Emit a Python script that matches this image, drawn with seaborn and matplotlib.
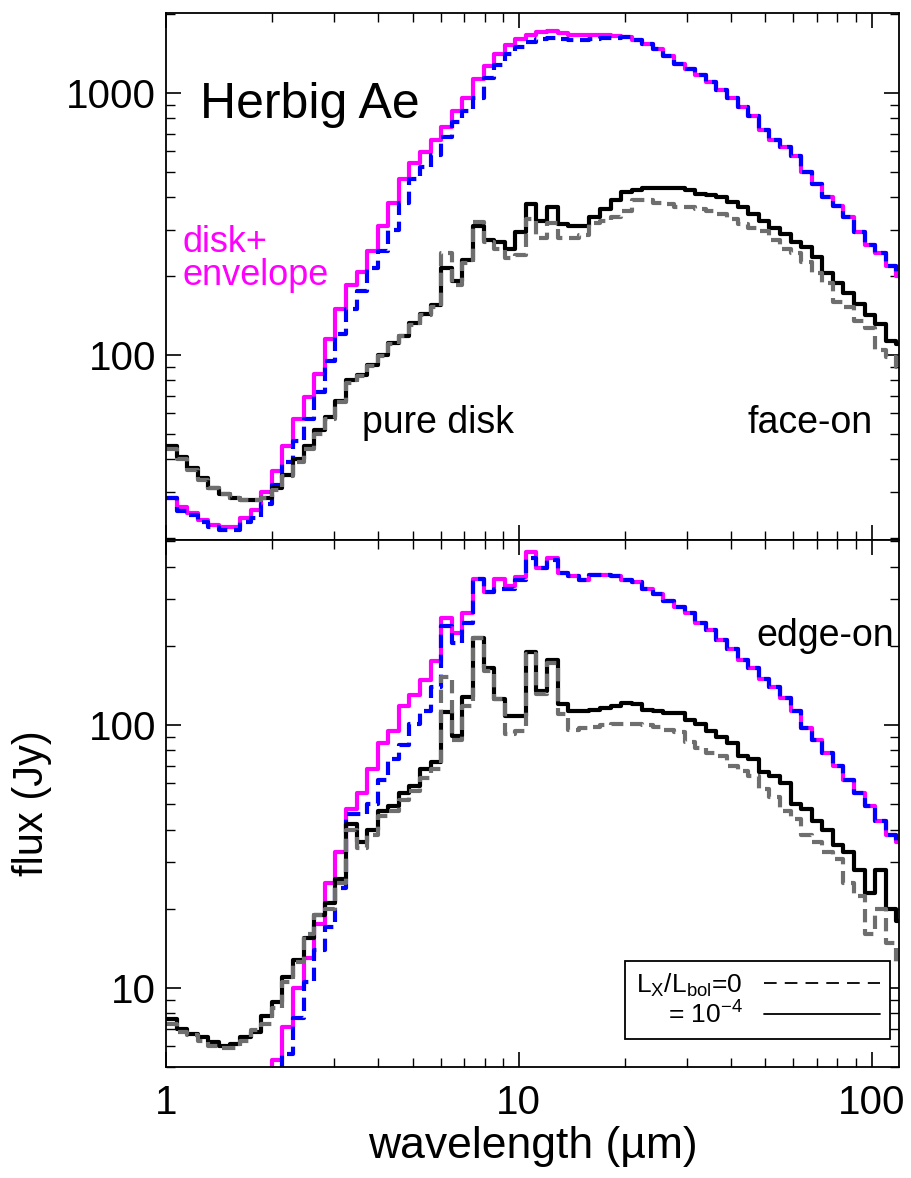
import matplotlib
matplotlib.use("Agg")
import numpy as np
import pandas as pd
import matplotlib.pyplot as plt
from matplotlib.lines import Line2D
from matplotlib.ticker import NullFormatter, LogLocator, FixedLocator, FixedFormatter
import seaborn as sns

# Wavelength bin edges (micron); each flux value spans one bin
WAVE_EDGES = [1.000, 1.072, 1.148, 1.230, 1.318, 1.413, 1.514, 1.622, 1.738, 1.862,
              1.995, 2.138, 2.291, 2.455, 2.630, 2.818, 3.020, 3.236, 3.467, 3.715,
              3.981, 4.266, 4.571, 4.898, 5.248, 5.623, 6.026, 6.457, 6.918, 7.413,
              7.943, 8.511, 9.120, 9.772, 10.47, 11.22, 12.02, 12.88, 13.80, 14.79,
              15.85, 16.98, 18.20, 19.50, 20.89, 22.39, 23.99, 25.70, 27.54, 29.51,
              31.62, 33.88, 36.31, 38.90, 41.69, 44.67, 47.86, 51.29, 54.95, 58.88,
              63.10, 67.61, 72.44, 77.62, 83.18, 89.13, 95.50, 102.3, 109.6, 117.5,
              125.9]

# ---- face-on (Jy) ----
FACE_ENV_LX4 = [28.5, 26.3, 25, 23.5, 22.5, 22, 22, 24, 25.6, 30,
                36, 45, 57, 69, 85, 115, 150, 185, 207, 250,
                310, 381, 470, 540, 596, 660, 740, 851, 960, 1130,
                1270, 1410, 1530, 1600, 1670, 1715, 1730, 1700, 1670, 1660,
                1660, 1660, 1650, 1630, 1590, 1540, 1470, 1380, 1285, 1230,
                1174, 1100, 1030, 960, 881, 820, 720, 660, 620, 575,
                500, 450, 400, 370, 335, 295, 263, 245, 219, 200]
FACE_ENV_LX0 = [28.5, 25.5, 24.5, 23, 22, 21.5, 21.5, 23, 24, 27,
                32, 39, 47, 57, 72, 95, 120, 150, 175, 215,
                250, 300, 381, 470, 520, 580, 680, 777, 851, 958,
                1145, 1280, 1408, 1500, 1560, 1600, 1620, 1610, 1590, 1595,
                1605, 1615, 1620, 1630, 1590, 1540, 1470, 1380, 1285, 1230,
                1174, 1100, 1030, 960, 881, 820, 720, 660, 620, 575,
                500, 450, 400, 370, 335, 295, 263, 245, 219, 200]
FACE_DISK_LX4 = [45, 41, 37, 34, 31, 29.5, 28.5, 28, 28, 28.5,
                 31, 35, 40, 45, 52, 58, 67, 80, 84, 92,
                 100, 111, 118, 133, 143, 155, 215, 192, 230, 310,
                 275, 270, 255, 295, 377, 325, 366, 315, 311, 311,
                 335, 361, 389, 420, 425, 433, 435, 435, 435, 427,
                 410, 408, 402, 384, 366, 345, 325, 306, 290, 270,
                 259, 237, 206, 189, 172, 157, 142, 131, 113, 110]
FACE_DISK_LX0 = [44, 40, 36.5, 33.5, 31, 29.5, 28.5, 28, 28, 28.5,
                 30.5, 34.5, 39, 44, 50, 57, 66, 78, 83, 91,
                 99, 110, 118, 130, 142, 153, 245, 185, 225, 322,
                 270, 255, 235, 240, 330, 279, 320, 279, 279, 288,
                 320, 325, 335, 356, 389, 389, 380, 378, 366, 366,
                 361, 355, 345, 330, 316, 305, 297, 275, 255, 245,
                 226, 205, 189, 160, 152, 135, 127, 105, 98, 90]

# ---- edge-on (Jy); None = below the plotted range ----
EDGE_ENV_LX4 = [None, None, None, None, None, None, None, None, None, 4.0,
                5.3, 7.1, 10, 13, 17.5, 25, 33, 48, 55, 68,
                85, 95, 118, 130, 148, 175, 256, 224, 267, 360,
                320, 360, 339, 366, 453, 395, 433, 378, 370, 356,
                373, 373, 370, 356, 351, 330, 315, 296, 280, 266,
                245, 230, 210, 195, 177, 164, 150, 140, 127, 113,
                97, 88, 78, 70, 62, 55, 49, 43, 38, 36]
EDGE_ENV_LX0 = [None, None, None, None, None, None, None, None, None, None,
                4.5, 5.6, 7.7, 10.5, 13.9, 17, 24, 46, 46, 50,
                62, 74, 84, 101, 113, 140, 237, 205, 245, 360,
                320, 330, 330, 355, 430, 395, 425, 378, 370, 356,
                373, 373, 370, 356, 351, 330, 315, 296, 280, 266,
                245, 230, 210, 195, 177, 164, 150, 140, 127, 113,
                97, 88, 78, 70, 62, 55, 49, 43, 38, 36]
EDGE_DISK_LX4 = [7.6, 7.0, 6.7, 6.5, 6.2, 6.0, 6.1, 6.5, 6.8, 7.8,
                 8.8, 11, 12.8, 15.5, 18.9, 21, 26, 42, 36, 40,
                 47, 49, 55, 58.5, 68, 72, 112, 91, 128, 215,
                 165, 125, 108, 108, 190, 135, 177, 120, 113, 113,
                 114, 116, 118, 121, 120, 114, 113, 111, 111, 104,
                 101, 95, 90, 85, 76, 74, 66, 64, 60, 50,
                 48, 43, 40, 35, 33, 28, 23, 28, 20, 18]
EDGE_DISK_LX0 = [7.3, 6.8, 6.6, 6.3, 6.0, 5.9, 5.9, 6.3, 6.9, 7.3,
                 8.4, 10.5, 12.5, 16, 19, 20, 25, 40, 34, 38,
                 45, 47, 52, 56, 63, 68, 152, 88, 118, 215,
                 160, 125, 92, 95, 186, 131, 172, 110, 96, 97,
                 98, 100, 101, 101, 101, 100, 98, 96, 94, 86,
                 82, 78, 76, 70, 67, 64, 57, 53, 47, 44,
                 38, 36, 33, 31, 25, 22.4, 16, 20, 14.8, 12.5]

X_TICKS = [1, 10, 100]
X_TICK_LABELS = ["1", "10", "100"]
FACE_Y_TICKS = [100, 1000]
EDGE_Y_TICKS = [10, 100]

MAGENTA = "#ff00ff"
BLUE = "#0000ff"
BLACK = "#000000"
GRAY = "#6e6e6e"
DASH = (0, (3.2, 1.6))

sns.set_style("ticks")
plt.rcParams["font.family"] = ["Liberation Sans", "DejaVu Sans"]
plt.rcParams["mathtext.fontset"] = "custom"
plt.rcParams["mathtext.rm"] = "Liberation Sans"
plt.rcParams["mathtext.it"] = "Liberation Sans:italic"
plt.rcParams["text.color"] = "black"
plt.rcParams["axes.labelcolor"] = "black"
plt.rcParams["xtick.color"] = "black"
plt.rcParams["ytick.color"] = "black"

fig = plt.figure(figsize=(9.11, 11.78), dpi=100)
ax_top = fig.add_axes([0.1822, 0.5416, 0.8046, 0.4474])
ax_bot = fig.add_axes([0.1822, 0.0942, 0.8046, 0.4474], sharex=ax_top)


def draw_sed(ax, values, color, dashed):
    flux = [np.nan if v is None else v for v in values]
    frame = pd.DataFrame({"wave": WAVE_EDGES, "flux": flux + [flux[-1]]}).dropna()
    sns.lineplot(data=frame, x="wave", y="flux", ax=ax, color=color,
                 linewidth=3.0, linestyle=DASH if dashed else "-",
                 drawstyle="steps-post", estimator=None, legend=False)


for ax in (ax_top, ax_bot):
    ax.set_xscale("log")
    ax.set_yscale("log")

for ax, env4, env0, disk4, disk0 in (
        (ax_top, FACE_ENV_LX4, FACE_ENV_LX0, FACE_DISK_LX4, FACE_DISK_LX0),
        (ax_bot, EDGE_ENV_LX4, EDGE_ENV_LX0, EDGE_DISK_LX4, EDGE_DISK_LX0)):
    draw_sed(ax, env4, MAGENTA, False)
    draw_sed(ax, env0, BLUE, True)
    draw_sed(ax, disk4, BLACK, False)
    draw_sed(ax, disk0, GRAY, True)

ax_top.set_ylim(19.7, 2020)
ax_bot.set_ylim(5.0, 505)

for ax, yticks in ((ax_top, FACE_Y_TICKS), (ax_bot, EDGE_Y_TICKS)):
    ax.set_xlim(1, 119.5)
    ax.xaxis.set_major_locator(FixedLocator(X_TICKS))
    ax.xaxis.set_major_formatter(FixedFormatter(X_TICK_LABELS))
    ax.xaxis.set_minor_locator(LogLocator(base=10, subs=np.arange(2, 10)))
    ax.xaxis.set_minor_formatter(NullFormatter())
    ax.yaxis.set_major_locator(FixedLocator(yticks))
    ax.yaxis.set_major_formatter(FixedFormatter([str(t) for t in yticks]))
    ax.yaxis.set_minor_locator(LogLocator(base=10, subs=np.arange(2, 10)))
    ax.yaxis.set_minor_formatter(NullFormatter())
    ax.tick_params(which="both", direction="in", top=True, right=True,
                   color="black", labelcolor="black")
    ax.tick_params(which="major", length=10.5, width=1.2, labelsize=29)
    ax.tick_params(which="minor", length=6.2, width=1.0)
    ax.tick_params(axis="y", which="major", pad=7)
    ax.tick_params(axis="x", which="major", pad=12)
    for spine in ax.spines.values():
        spine.set_linewidth(1.3)
        spine.set_color("black")
    ax.set_xlabel("")
    ax.set_ylabel("")

ax_top.tick_params(axis="x", labelbottom=False)

ax_bot.set_xlabel("wavelength (\u00b5m)", fontsize=32, color="black")
ax_bot.xaxis.set_label_coords(0.5, -0.112)
ax_bot.set_ylabel("flux (Jy)", fontsize=30, color="black")
ax_bot.yaxis.set_label_coords(-0.1555, 0.5)

ax_top.text(0.046, 0.801, "Herbig Ae", transform=ax_top.transAxes,
            fontsize=36, ha="left", va="baseline", color="black")
ax_top.text(0.022, 0.5465, "disk+", transform=ax_top.transAxes,
            fontsize=26, color=MAGENTA, ha="left", va="baseline")
ax_top.text(0.022, 0.483, "envelope", transform=ax_top.transAxes,
            fontsize=26, color=MAGENTA, ha="left", va="baseline")
ax_top.text(0.267, 0.203, "pure disk", transform=ax_top.transAxes,
            fontsize=27, ha="left", va="baseline", color="black")
ax_top.text(0.9645, 0.203, "face-on", transform=ax_top.transAxes,
            fontsize=27, ha="right", va="baseline", color="black")
ax_bot.text(0.993, 0.799, "edge-on", transform=ax_bot.transAxes,
            fontsize=27, ha="right", va="baseline", color="black")

handles = [Line2D([], [], color="black", lw=1.3, linestyle=(0, (7, 4.5))),
           Line2D([], [], color="black", lw=1.3)]
labels = [r"L$_\mathregular{X}$/L$_\mathregular{bol}$=0",
          r"= 10$^\mathregular{-4}$"]
leg = ax_bot.legend(handles, labels, loc="lower right", bbox_to_anchor=(0.988, 0.053),
                    borderaxespad=0, markerfirst=False, fontsize=19, frameon=True,
                    fancybox=False, edgecolor="black", facecolor="white", framealpha=1,
                    handlelength=4.4, handletextpad=0.8, borderpad=0.4,
                    labelspacing=0.1)
leg.get_frame().set_linewidth(1.3)
for txt in leg.get_texts():
    txt.set_color("black")

fig.savefig("out.png", dpi=100)
